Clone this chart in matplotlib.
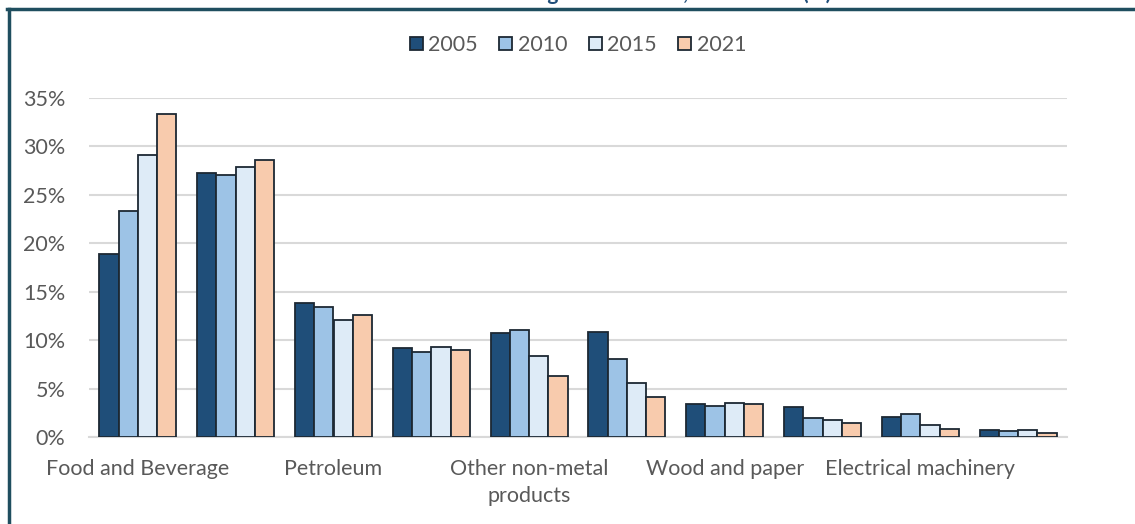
import matplotlib.pyplot as plt
import numpy as np
from matplotlib.lines import Line2D
from matplotlib.ticker import FuncFormatter

# only every other category label is shown in the source chart
categories = ["Food and Beverage", "", "Petroleum", "", "Other non-metal\nproducts",
              "", "Wood and paper", "", "Electrical machinery", ""]
years = ["2005", "2010", "2015", "2021"]
v2005 = [18.9, 27.3, 13.8, 9.2, 10.7, 10.8, 3.4, 3.1, 2.1, 0.7]
v2010 = [23.3, 27.0, 13.4, 8.8, 11.0, 8.1, 3.2, 2.0, 2.4, 0.6]
v2015 = [29.1, 27.9, 12.1, 9.3, 8.4, 5.6, 3.5, 1.8, 1.2, 0.7]
v2021 = [33.3, 28.6, 12.6, 9.0, 6.3, 4.1, 3.4, 1.4, 0.8, 0.45]
series = [v2005, v2010, v2015, v2021]
colors = ["#1f4e79", "#9dc3e6", "#deebf7", "#f8cbad"]

plt.rcParams['font.family'] = ['Lato', 'DejaVu Sans']
txt = "#595959"
fs = 15.5

fig = plt.figure(figsize=(11.35, 5.24), dpi=100)
ax = fig.add_axes([89/1135, 1-437/524, (1067-89)/1135, (437-98)/524])

x = np.arange(len(categories))
w = 0.197
for i, vals in enumerate(series):
    ax.bar(x + (i-1.5)*w, vals, w, color=colors[i], edgecolor="#1c2833",
           linewidth=1.3, label=years[i], zorder=3)

ax.set_xlim(-0.5, len(categories)-0.5)
ax.set_ylim(0, 35)
ax.set_yticks(np.arange(0, 36, 5))
ax.yaxis.set_major_formatter(FuncFormatter(lambda v, p: "%d%%" % v))
ax.set_xticks(x)
ax.set_xticklabels(categories, fontsize=fs, color=txt, linespacing=1.45)
ax.tick_params(axis='y', labelsize=fs, labelcolor=txt, length=0, pad=17)
ax.tick_params(axis='x', length=0, pad=16)
ax.grid(axis='y', color="#d9d9d9", linewidth=1.5, zorder=0)
for s in ["top", "right", "left"]:
    ax.spines[s].set_visible(False)
ax.spines["bottom"].set_color("#d9d9d9")
ax.spines["bottom"].set_linewidth(1.5)

fig.legend(loc="center", bbox_to_anchor=(578/1135, 1-45/524), ncol=4, frameon=False,
           fontsize=fs, labelcolor=txt, handlelength=0.6, handleheight=0.6,
           handletextpad=0.25, columnspacing=1.0)

# frame lines
frame = "#1f4e5f"
fig.add_artist(Line2D([7/1135, 1], [1-9/524, 1-9/524], color=frame, linewidth=2.5,
                      transform=fig.transFigure))
fig.add_artist(Line2D([8.5/1135, 8.5/1135], [0, 1-9/524], color=frame, linewidth=2.5,
                      transform=fig.transFigure))

# title sits mostly above the crop, as in the source
fig.text(0.5, 1.0, "Structure of Manufacturing Value Added, 2005-2021 (%)",
         ha="center", va="baseline", fontsize=15, fontweight="bold", color="#1f4e79")

fig.savefig("out.png", dpi=100)
